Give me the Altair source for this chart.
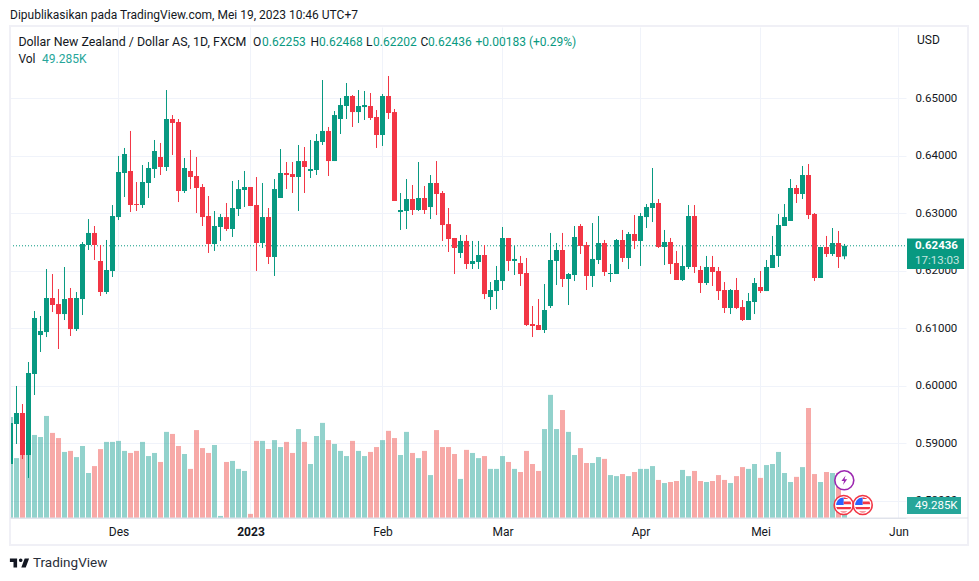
import altair as alt
import pandas as pd

open_ = [.58641,.59337,.59528,.58798,.60206,.60884,.60936,.61528,.61423,.61249,.61528,.60988,.61510,.62450,.62659,.62172,.61632,.61998,.62936,.63702,
.63737,.63162,.63145,.63528,.63772,.63980,.63806,.64641,.64589,.63389,.63737,.63650,.63458,.62954,.62467,.62763,.62936,.62728,.63076,.63406,
.63458,.63145,.62485,.62936,.62241,.63267,.63702,.63684,.63632,.63910,.63737,.63754,.64241,.64433,.63910,.64641,.64867,.65041,.64762,.64849,
.64867,.64676,.64363,.65041,.64762,.63023,.63041,.63250,.63058,.63267,.63110,.63528,.63354,.62814,.62572,.62311,.62520,.62119,.62154,.62276,
.61545,.61649,.61823,.62572,.62172,.62137,.61963,.61076,.61058,.60971,.61389,.62172,.62363,.61858,.61928,.62780,.62450,.61911,.62189,.62485,
.61945,.61945,.62537,.62224,.62641,.62520,.62936,.63093,.63180,.62415,.62502,.62137,.61841,.62067,.62954,.62015,.61789,.62067,.61998,.61667,
.61354,.61667,.61371,.61145,.61458,.61719,.61649,.62050,.62259,.62780,.62867,.63441,.63337,.63667,.62989,.61876,.62415,.62293,.62485,.62253]
high = [.59354,.59998,.59684,.60415,.61302,.61215,.62032,.61945,.61684,.62067,.61702,.61632,.62502,.62901,.62780,.62450,.62537,.63145,.63998,.64137,
.64433,.63545,.63841,.63893,.64276,.64224,.65145,.64710,.64641,.63963,.64102,.63980,.63510,.63302,.63041,.62989,.63180,.63563,.63580,.63737,
.63458,.63632,.63528,.63093,.63597,.64119,.63893,.63893,.64189,.64154,.64276,.64380,.65319,.64502,.64780,.65006,.65267,.65058,.65145,.65128,
.65093,.64797,.65076,.65389,.64815,.63354,.63597,.63493,.63893,.63476,.63667,.63910,.63389,.63093,.62572,.62624,.62624,.62520,.62520,.62450,
.61806,.62085,.62763,.62572,.62433,.62259,.62224,.61389,.61510,.61771,.62659,.62485,.62659,.61963,.62780,.62814,.62502,.62832,.62954,.62537,
.62119,.62554,.62711,.62676,.62971,.63006,.63162,.63789,.63250,.62711,.62572,.62346,.62433,.63145,.63145,.62085,.62259,.62259,.62067,.61806,
.61684,.61876,.61493,.61615,.61876,.61998,.62189,.62607,.62989,.63162,.63597,.63493,.63824,.63858,.63006,.62415,.62607,.62745,.62694,.62468]
low = [.58641,.58989,.58728,.58398,.59841,.60589,.60849,.61284,.60641,.61145,.60867,.60954,.61232,.62363,.62189,.61563,.61597,.61893,.62884,.63284,
.63023,.63041,.63093,.63267,.63615,.63667,.63737,.64015,.63197,.63354,.63423,.63006,.62780,.62311,.62346,.62520,.62694,.62589,.62954,.63110,
.63128,.61998,.62398,.62119,.61911,.63267,.63423,.63354,.63041,.63354,.63615,.63667,.64189,.63650,.63910,.64380,.64641,.64502,.64572,.64624,
.64624,.64137,.64172,.64641,.63215,.62711,.62728,.62971,.63041,.62989,.62901,.62971,.62520,.62328,.61945,.62224,.62032,.62032,.62032,.61510,
.61319,.61336,.61667,.61998,.61928,.61737,.61041,.60849,.60971,.60919,.61354,.61754,.61719,.61406,.61823,.62293,.61667,.61719,.62119,.61911,
.61806,.61945,.62154,.62032,.62380,.62085,.62745,.62849,.62398,.62102,.61945,.61841,.61823,.62032,.61963,.61615,.61754,.61737,.61493,.61267,
.61249,.61336,.61128,.61145,.61249,.61615,.61649,.62050,.62067,.62780,.62867,.63180,.63250,.62901,.61823,.61876,.62241,.62259,.62050,.62202]
close = [.59354,.59528,.58798,.60224,.61180,.60954,.61528,.61406,.61249,.61510,.60988,.61528,.62467,.62659,.62450,.61632,.62015,.62954,.63719,.64032,
.63145,.63145,.63545,.63789,.64085,.63806,.64641,.64572,.63389,.63789,.63632,.63441,.62936,.62467,.62780,.62936,.62728,.63093,.63423,.63458,
.63128,.62485,.62936,.62241,.63423,.63702,.63667,.63632,.63910,.63806,.63772,.64259,.64433,.63910,.64710,.64884,.65041,.64762,.64867,.64884,
.64658,.64363,.65041,.64745,.63215,.63058,.63250,.63058,.63267,.63058,.63528,.63337,.62797,.62554,.62398,.62520,.62119,.62172,.62276,.61597,
.61667,.61841,.62572,.62172,.62207,.61945,.61058,.61041,.60971,.61319,.62189,.62363,.61858,.61945,.62589,.62433,.61911,.62207,.62485,.61980,
.61963,.62537,.62224,.62641,.62520,.62954,.63110,.63180,.62415,.62502,.62119,.61841,.62085,.62954,.62067,.61789,.62067,.61980,.61649,.61354,
.61667,.61354,.61145,.61476,.61789,.61649,.62067,.62276,.62797,.62936,.63441,.63337,.63667,.62971,.61876,.62415,.62293,.62485,.62241,.62436]
volume_k = [393,233,316,291,323,315,397,331,311,257,261,237,280,175,202,268,296,296,300,261,
253,261,296,241,253,218,335,327,280,249,191,342,272,253,284,8,218,222,191,183,
16,300,300,268,303,276,296,253,346,296,210,319,370,303,288,261,241,300,261,241,
257,276,303,339,311,245,335,253,233,261,167,342,276,276,249,152,265,253,233,241,
191,191,241,218,191,179,261,210,183,346,479,346,420,335,245,272,214,214,237,230,
167,163,171,163,179,191,191,202,148,136,140,144,187,163,183,144,140,144,167,148,
136,163,198,191,210,156,206,210,257,175,140,160,198,428,171,140,179,175,175,49.285]

price_ticks = [.58,.59,.60,.61,.62,.63,.64,.65]
time_ticks = [18,40,62,82,105,125,148]
time_labels = ["Des","2023","Feb","Mar","Apr","Mei","Jun"]
last_close = close[-1]

UP, DOWN = "#089981", "#F23645"
VUP, VDOWN = "#26a69a", "#ef5350"
INK = "#131722"
FONT = "Roboto"
GRID = "#f0f3fa"

df = pd.DataFrame({"session": range(len(close)), "open": open_, "high": high, "low": low,
                   "close": close, "volume": volume_k})
df["candle"] = [UP if c >= o else DOWN for o, c in zip(open_, close)]
df["bar"] = [VUP if c >= o else VDOWN for o, c in zip(open_, close)]

W, H = 896, 491
price_scale = alt.Scale(domain=[.57702, .66241], nice=False, zero=False)
labels_js = "[" + ",".join(f"'{s}'" for s in time_labels) + "][indexof(" + str(time_ticks) + ",datum.value)]"
x_enc = alt.X("session:Q",
              scale=alt.Scale(domain=[-0.08333, 149.25], nice=False, zero=False, padding=0),
              axis=alt.Axis(values=time_ticks, labelExpr=labels_js, title=None, grid=True, gridColor=GRID,
                            ticks=False, domainColor="#e0e3eb", labelFont=FONT, labelFontSize=12,
                            labelColor=INK, labelPadding=8, labelOverlap=False, labelFlush=False,
                            labelFontWeight={"condition": {"test": "datum.value == 40", "value": "bold"}, "value": "normal"}))

vol = alt.Chart(df).mark_bar(size=5, opacity=.5, clip=True).encode(
    x=x_enc,
    y=alt.Y("volume:Q", scale=alt.Scale(domain=[0, 1910], nice=False), axis=None),
    color=alt.Color("bar:N", scale=None))

last_line = alt.Chart(pd.DataFrame({"p": [last_close]})).mark_rule(color=UP, strokeDash=[1, 2], strokeWidth=1).encode(
    y=alt.Y("p:Q", scale=price_scale,
            axis=alt.Axis(values=price_ticks, format=".5f", orient="right", title=None, grid=True, gridColor=GRID,
                          ticks=False, domain=False, labelFont=FONT, labelFontSize=11.5, labelColor=INK,
                          labelPadding=9, labelAlign="left")),
    x=alt.value(0), x2=alt.value(W))

wick = alt.Chart(df).mark_rule(strokeWidth=1, clip=True).encode(
    x=x_enc,
    y=alt.Y("low:Q", scale=price_scale, axis=None), y2="high:Q",
    color=alt.Color("candle:N", scale=None))
body = alt.Chart(df).mark_bar(size=5, clip=True).encode(
    x=x_enc,
    y=alt.Y("open:Q", scale=price_scale, axis=None), y2="close:Q",
    color=alt.Color("candle:N", scale=None))

one = pd.DataFrame({"a": [1]})
OX, OY = 10, 27

def txt(s, px, py, color=INK, size=12, weight="normal", align="left", opacity=1):
    return alt.Chart(one).mark_text(text=s, font=FONT, fontSize=size, fontWeight=weight, color=color,
                                    align=align, baseline="middle", opacity=opacity, clip=False).encode(
        x=alt.value(px - OX), y=alt.value(py - OY))

def box(x0, x1, y0, y1, color, **kw):
    return alt.Chart(one).mark_rect(color=color, clip=False, **kw).encode(
        x=alt.value(x0 - OX), x2=alt.value(x1 - OX), y=alt.value(y0 - OY), y2=alt.value(y1 - OY))

def sym(shape, px, py, size, fill, stroke=None, sw=0):
    kw = {"stroke": stroke, "strokeWidth": sw} if stroke else {"strokeWidth": 0}
    return alt.Chart(one).mark_point(shape=shape, size=size, fill=fill, filled=True, opacity=1, clip=False, **kw).encode(
        x=alt.value(px - OX), y=alt.value(py - OY))

frame = alt.Chart(one).mark_rect(fill="transparent", stroke="#f0f0f6", strokeWidth=2, clip=False).encode(
    x=alt.value(0), x2=alt.value(958), y=alt.value(-1), y2=alt.value(518))
axis_line = alt.Chart(one).mark_rule(color="#e0e3eb", strokeWidth=1, clip=False).encode(
    x=alt.value(0), x2=alt.value(958), y=alt.value(H))

BOLT = "M0.25 -0.9 L-0.55 0.15 L-0.05 0.15 L-0.25 0.9 L0.55 -0.2 L0.05 -0.2 Z"
CANTON = "M-1 0 A1 1 0 0 1 0 -1 L0 0 Z"
STRIPES = ("M0 -1 A1 1 0 0 1 0.6 -0.8 L0 -0.8 Z M0 -0.45 L0.9 -0.45 L1 -0.1 L0 -0.1 Z "
           "M-1 0.25 L1 0.25 L0.9 0.55 L-0.85 0.55 Z M-0.5 0.85 L0.5 0.85 A1 1 0 0 1 -0.5 0.85 Z")
LOGO = ("M-.24 -.45 L-.96 -.45 L-.96 -.09 L-.6 -.09 L-.6 .45 L-.24 .45 Z "
        "M.6 .45 L.18 .45 L.516 -.45 L.96 -.45 L.624 .45 Z "
        "M.12 -.45 A.18 .18 0 1 1 .12 -.09 A.18 .18 0 1 1 .12 -.45 Z")

def flag(px, py):
    return [sym("circle", px, py, 360, "white", "#F23645", 1.6),
            sym(CANTON, px, py, 230, "#2962FF"), sym(STRIPES, px, py, 230, "#F23645")]

extras = [
    frame, axis_line,
    box(907, 964, 238.5, 269, UP),
    txt("0.62436", 915, 246, "white", 11.5, "bold"),
    txt("17:13:03", 915, 261, "white", 11.5, "normal", opacity=.75),
    box(907, 961, 497, 514, VUP),
    txt("49.285K", 915, 505.5, "white", 11.5),
    txt("USD", 917, 40),
    txt("Dipublikasikan pada TradingView.com, Mei 19, 2023 10:46 UTC+7", 10, 14.5),
    txt("Dollar New Zealand / Dollar AS, 1D, FXCM", 18.4, 42, size=12.4),
    txt("O", 253, 42), txt("0.62253", 262, 42, UP),
    txt("H", 310.5, 42), txt("0.62468", 319, 42, UP),
    txt("L", 366, 42), txt("0.62202", 373, 42, UP),
    txt("C", 420.5, 42), txt("0.62436", 428, 42, UP),
    txt("+0.00183 (+0.29%)", 475.5, 42, UP),
    txt("Vol", 18.4, 59), txt("49.285K", 42, 59, VUP),
    sym("circle", 844.3, 480.3, 360, "white", "#9C27B0", 1.6),
    sym(BOLT, 844.3, 480.3, 110, "#9C27B0"),
    *flag(843.7, 505), *flag(862.7, 505),
    sym(LOGO, 19.5, 563, 400, INK),
    txt("TradingView", 33, 563, "#2a2e39", 13.5),
]

chart = alt.layer(vol, last_line, wick, body, *extras).resolve_scale(y="independent").properties(
    width=W, height=H, background="white",
    padding={"left": 2, "top": 19, "right": 65, "bottom": 55},
    autosize=alt.AutoSizeParams(type="none"),
).configure_view(stroke=None)

chart.save("out.html", embed_options={"renderer": "svg", "actions": False})
